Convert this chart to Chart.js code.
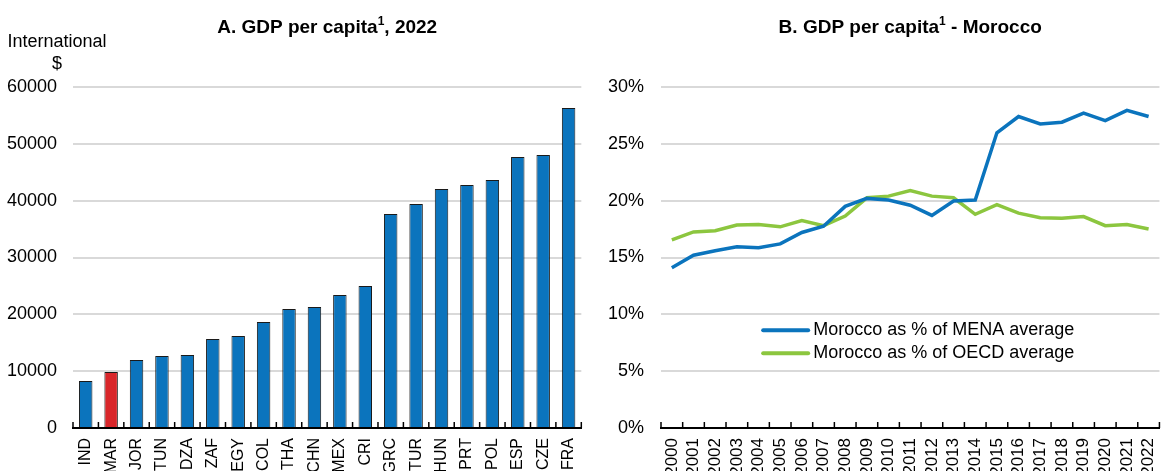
<!DOCTYPE html>
<html>
<head>
<meta charset="utf-8">
<script src="https://cdn.jsdelivr.net/npm/chart.js@4"></script>
<style>
  body { margin: 0; background: #fff; }
  .wrap { display: flex; width: 1171px; height: 471px; }
  #left { width: 590px; height: 471px; }
  #right { width: 581px; height: 471px; }
</style>
</head>
<body>
<div class="wrap">
  <div id="left"><canvas class="gdpchart"></canvas></div>
  <div id="right"><canvas class="morchart"></canvas></div>
</div>
<script>
// panel A data
const countries = ['IND','MAR','JOR','TUN','DZA','ZAF','EGY','COL','THA','CHN','MEX','CRI','GRC','TUR','HUN','PRT','POL','ESP','CZE','FRA'];
const gdp = [8270, 9850, 11970, 12670, 12850, 15660, 16190, 18650, 20940, 21290, 23400, 24990, 37660, 39420, 42050, 42760, 43640, 47690, 48040, 56310];

// panel B data
const years = ['2000','2001','2002','2003','2004','2005','2006','2007','2008','2009','2010','2011','2012','2013','2014','2015','2016','2017','2018','2019','2020','2021','2022'];
const menaShare = [14.1, 15.2, 15.6, 15.95, 15.85, 16.2, 17.2, 17.75, 19.5, 20.2, 20.05, 19.6, 18.7, 19.97, 20.05, 25.97, 27.4, 26.75, 26.9, 27.7, 27.05, 27.95, 27.4];
const oecdShare = [16.55, 17.25, 17.35, 17.85, 17.9, 17.7, 18.25, 17.8, 18.65, 20.25, 20.4, 20.9, 20.4, 20.25, 18.8, 19.65, 18.9, 18.5, 18.45, 18.6, 17.8, 17.9, 17.5];

const FONT = '"Liberation Sans Narrow", "Arial Narrow", "Liberation Sans", sans-serif';
const BLUE = '#0b74bd';
const RED = '#d9262a';
const GREEN = '#8cc63f';
Chart.defaults.font.family = FONT;
Chart.defaults.color = '#000';
Chart.defaults.animation = false;

// little tick marks sitting on top of the x axis, between categories
const innerTicks = {
  id: 'innerTicks',
  afterDraw(chart) {
    const xs = chart.scales.x, ctx = chart.ctx, y = xs.top;
    const n = xs.ticks.length;
    ctx.save();
    ctx.strokeStyle = '#000';
    ctx.lineWidth = 1.5;
    for (let i = 0; i <= n; i++) {
      let x;
      if (i == 0) x = xs.left;
      else if (i == n) x = xs.right;
      else x = (xs.getPixelForTick(i - 1) + xs.getPixelForTick(i)) / 2;
      ctx.beginPath();
      ctx.moveTo(x, y);
      ctx.lineTo(x, y - 6);
      ctx.stroke();
    }
    ctx.restore();
  }
};

// titles and side texts
const titleText = {
  id: 'titleText',
  afterDraw(chart, args, opts) {
    const ctx = chart.ctx, ca = chart.chartArea;
    ctx.save();
    ctx.fillStyle = '#000';
    ctx.textBaseline = 'middle';
    ctx.textAlign = 'center';
    // main title, with superscript 1
    ctx.font = 'bold 19px ' + FONT;
    const w1 = ctx.measureText(opts.pre).width;
    ctx.font = 'bold 12px ' + FONT;
    const w2 = ctx.measureText('1').width;
    ctx.font = 'bold 19px ' + FONT;
    const w3 = ctx.measureText(opts.post).width;
    let x = (ca.left + ca.right) / 2 - (w1 + w2 + w3) / 2;
    ctx.textAlign = 'left';
    ctx.fillText(opts.pre, x, 28);
    ctx.font = 'bold 12px ' + FONT;
    ctx.fillText('1', x + w1, 22);
    ctx.font = 'bold 19px ' + FONT;
    ctx.fillText(opts.post, x + w1 + w2, 28);
    if (opts.unit) {
      ctx.font = '18px ' + FONT;
      ctx.textAlign = 'center';
      ctx.fillText(opts.unit[0], 57, 42);
      ctx.fillText(opts.unit[1], 57, 64);
    }
    ctx.restore();
  }
};

// legend drawn inside the plot
const innerLegend = {
  id: 'innerLegend',
  afterDraw(chart) {
    const ctx = chart.ctx, ca = chart.chartArea;
    const x0 = ca.left + (ca.right - ca.left) * 0.205;
    const y0 = chart.scales.y.getPixelForValue(10) + 16;
    ctx.save();
    ctx.font = '18px ' + FONT;
    ctx.textBaseline = 'middle';
    ctx.textAlign = 'left';
    chart.data.datasets.forEach((ds, i) => {
      const y = y0 + i * 23;
      ctx.strokeStyle = ds.borderColor;
      ctx.lineWidth = 4;
      ctx.lineCap = 'round';
      ctx.beginPath();
      ctx.moveTo(x0, y);
      ctx.lineTo(x0 + 45, y);
      ctx.stroke();
      ctx.fillStyle = '#000';
      ctx.fillText(ds.label, x0 + 50, y);
    });
    ctx.restore();
  }
};

new Chart(document.querySelector('canvas.gdpchart'), {
  type: 'bar',
  data: {
    labels: countries,
    datasets: [{
      data: gdp,
      backgroundColor: countries.map(c => c == 'MAR' ? RED : BLUE),
      borderColor: '#1a1a1a',
      borderWidth: 1,
      barPercentage: 0.53,
      categoryPercentage: 1
    }]
  },
  options: {
    responsive: true,
    maintainAspectRatio: false,
    layout: { padding: { top: 87, right: 8, left: 0, bottom: 0 } },
    plugins: {
      legend: { display: false },
      tooltip: { enabled: false },
      titleText: { pre: 'A. GDP per capita', post: ', 2022', unit: ['International', '$'] }
    },
    scales: {
      x: {
        grid: { display: false },
        border: { display: true, color: '#000', width: 2 },
        ticks: { minRotation: 90, maxRotation: 90, padding: 2, font: { size: 16 } },
        afterFit(s) { s.height = 43; }
      },
      y: {
        min: 0, max: 60000,
        ticks: { stepSize: 10000, padding: 16, font: { size: 18 }, callback: v => String(v) },
        grid: { color: '#d9d9d9', lineWidth: 2, drawTicks: false },
        border: { display: false },
        afterFit(s) { s.width = 73; }
      }
    }
  },
  plugins: [innerTicks, titleText]
});

new Chart(document.querySelector('canvas.morchart'), {
  type: 'line',
  data: {
    labels: years,
    datasets: [
      { label: 'Morocco as % of MENA average', data: menaShare, borderColor: BLUE, borderWidth: 3.5, pointRadius: 0, tension: 0 },
      { label: 'Morocco as % of OECD average', data: oecdShare, borderColor: GREEN, borderWidth: 3.5, pointRadius: 0, tension: 0 }
    ]
  },
  options: {
    responsive: true,
    maintainAspectRatio: false,
    layout: { padding: { top: 87, right: 0, left: 0, bottom: 0 } },
    plugins: {
      legend: { display: false },
      tooltip: { enabled: false },
      titleText: { pre: 'B. GDP per capita', post: ' - Morocco' }
    },
    scales: {
      x: {
        offset: true,
        grid: { display: false },
        border: { display: true, color: '#000', width: 2 },
        ticks: { minRotation: 90, maxRotation: 90, padding: 2, autoSkip: false, font: { size: 17 } },
        afterFit(s) { s.height = 43; }
      },
      y: {
        min: 0, max: 30,
        ticks: { stepSize: 5, padding: 17, font: { size: 18 }, callback: v => v + '%' },
        grid: { color: '#d9d9d9', lineWidth: 2, drawTicks: false },
        border: { display: false },
        afterFit(s) { s.width = 71; }
      }
    }
  },
  plugins: [innerTicks, titleText, innerLegend]
});
</script>
</body>
</html>
